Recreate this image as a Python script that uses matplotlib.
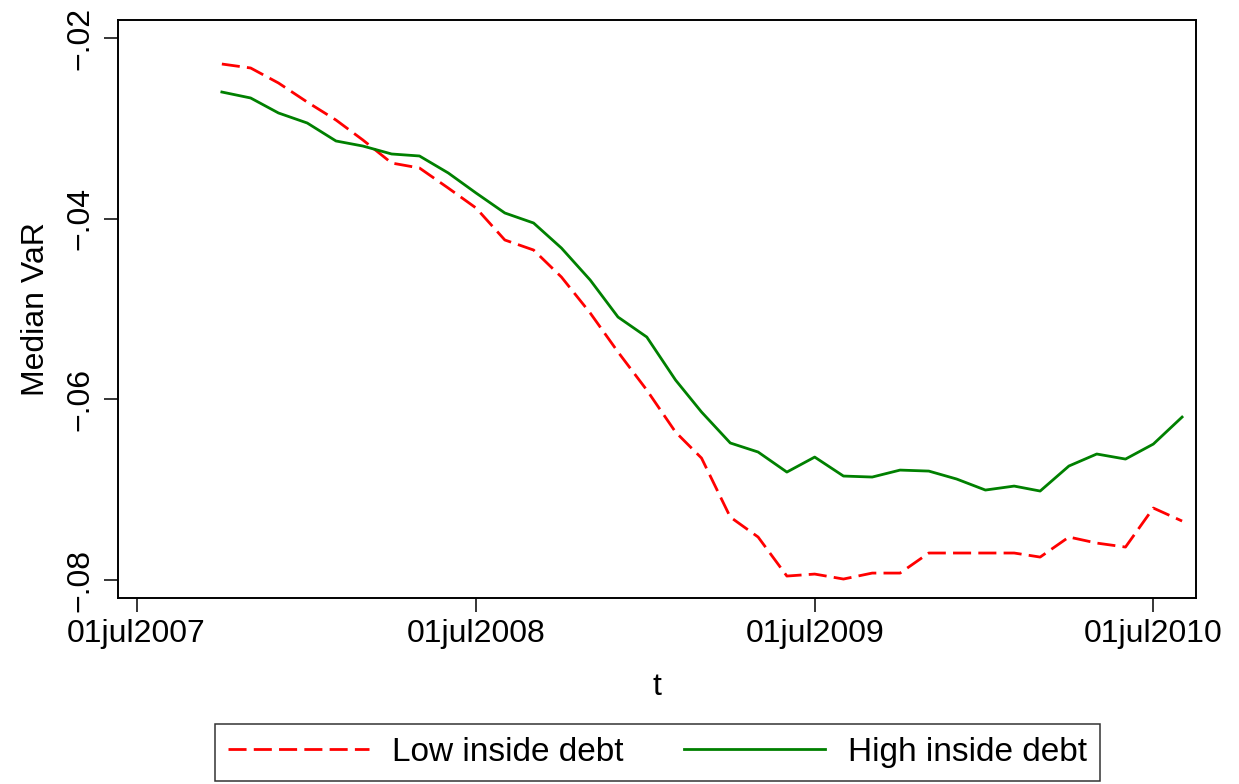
import datetime as dt
import matplotlib
matplotlib.use("Agg")
import matplotlib.pyplot as plt

plt.rcParams['font.family'] = ['Liberation Sans', 'DejaVu Sans']

# monthly observations, Oct 2007 - Aug 2010
months = [dt.date(2007 + (9 + i) // 12, (9 + i) % 12 + 1, 1) for i in range(35)]

low_debt = [-0.02288, -0.02332, -0.02498, -0.02709, -0.02908, -0.03129, -0.03384,
            -0.03439, -0.03661, -0.03882, -0.04236, -0.04347, -0.04646, -0.05044,
            -0.05476, -0.05897, -0.06362, -0.06650, -0.07303, -0.07524, -0.07956,
            -0.07934, -0.07989, -0.07923, -0.07923, -0.07701, -0.07701, -0.07701,
            -0.07701, -0.07746, -0.07524, -0.07591, -0.07635, -0.07203, -0.07347]

high_debt = [-0.02598, -0.02664, -0.02830, -0.02941, -0.03140, -0.03196, -0.03284,
             -0.03306, -0.03494, -0.03716, -0.03937, -0.04048, -0.04325, -0.04679,
             -0.05089, -0.05310, -0.05786, -0.06140, -0.06483, -0.06583, -0.06805,
             -0.06639, -0.06849, -0.06860, -0.06783, -0.06794, -0.06882, -0.07004,
             -0.06960, -0.07015, -0.06738, -0.06605, -0.06661, -0.06495, -0.06196]

xticks = [dt.date(2007, 7, 1), dt.date(2008, 7, 1), dt.date(2009, 7, 1), dt.date(2010, 7, 1)]
xticklabels = ['01jul2007', '01jul2008', '01jul2009', '01jul2010']
yticks = [-0.08, -0.06, -0.04, -0.02]
yticklabels = ['\u2212.08', '\u2212.06', '\u2212.04', '\u2212.02']

FS = 23

fig = plt.figure(figsize=(12.39, 7.84), dpi=100)
ax = fig.add_axes([0.0952, 0.2372, 0.8701, 0.7373])

l1, = ax.plot(months, low_debt, color='#FF0000', lw=2.0, dashes=(6.5, 2.6),
              label='Low inside debt')
l2, = ax.plot(months, high_debt, color='#008000', lw=2.0, label='High inside debt')

ax.set_xlim(dt.date(2007, 6, 11), dt.date(2010, 8, 16))
ax.set_ylim(-0.081993, -0.018007)
ax.set_xticks(xticks)
ax.set_xticklabels(xticklabels)
ax.set_yticks(yticks)
ax.set_yticklabels(yticklabels, rotation=90, va='center')

ax.tick_params(axis='both', direction='out', length=10, width=1.1, labelsize=FS)
ax.tick_params(axis='x', pad=5)
ax.tick_params(axis='y', pad=6.5)
for s in ax.spines.values():
    s.set_linewidth(1.4)

ax.set_xlabel('t', fontsize=FS, labelpad=17)
ax.set_ylabel('Median VaR', fontsize=FS, labelpad=10)

leg = fig.legend(handles=[l1, l2], loc='center', bbox_to_anchor=(0.5307, 0.0402),
                 ncol=2, fontsize=24, frameon=True, fancybox=False, handlelength=4.23,
                 handletextpad=0.69, columnspacing=1.8, borderpad=0.39)
leg.get_frame().set_edgecolor('black')
leg.get_frame().set_linewidth(1.1)

fig.savefig('out.png', dpi=100)
